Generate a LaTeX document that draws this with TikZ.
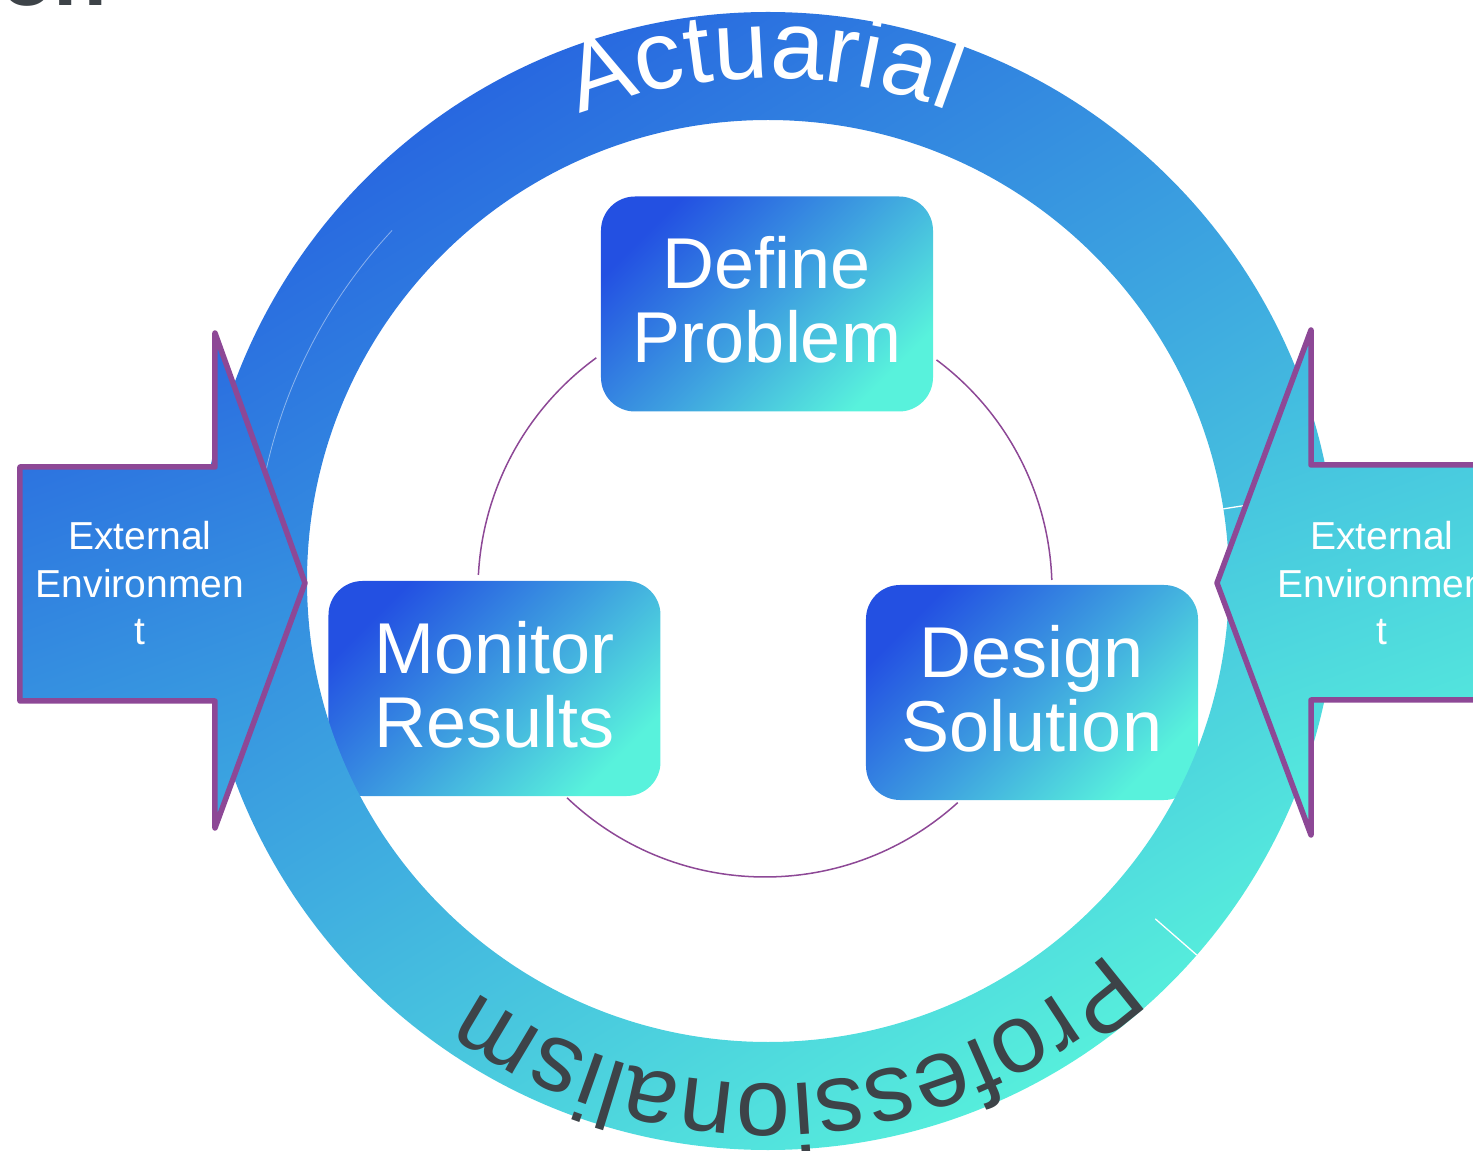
\documentclass[tikz,border=0pt]{standalone}
\usepackage{fontspec}
\setmainfont{Liberation Sans}
\usetikzlibrary{decorations.text}

\definecolor{ringA}{HTML}{2868E0}
\definecolor{ringB}{HTML}{3EAAE0}
\definecolor{ringC}{HTML}{56EEDC}
\definecolor{boxA}{HTML}{2350E2}
\definecolor{boxB}{HTML}{3D9EE0}
\definecolor{boxC}{HTML}{58F2DC}
\definecolor{plum}{HTML}{8D4896}
\definecolor{slate}{HTML}{3D4348}
\definecolor{envLA}{HTML}{2A6BE0}
\definecolor{envLB}{HTML}{3BA4E0}
\definecolor{envRA}{HTML}{42BAE0}
\definecolor{envRB}{HTML}{56EDDC}

\begin{document}
\begin{tikzpicture}[x=1pt,y=1pt,
  stepbox/.style={rounded corners=34pt, minimum width=332pt, minimum height=215pt,
    inner sep=0pt, draw=none, top color=boxA, bottom color=boxC, middle color=boxB,
    shading angle=45},
  steptext/.style={text=white, align=center, inner sep=0pt,
    font=\fontsize{72}{74}\selectfont},
  loopline/.style={draw=plum, line width=1.5pt},
  envarrow/.style={draw=plum, line width=5.5pt, line join=round},
  envtext/.style={text=white, align=center, inner sep=0pt,
    font=\fontsize{39}{47.5}\selectfont},
  seam/.style={draw=white, line width=1.3pt},
]
\useasboundingbox (-768,-570) rectangle (705,581);
\clip (-768,-570) rectangle (705,581);
\coordinate (hub) at (0,0);
\coordinate (loop) at (-3,-9);

% heading running off the top edge
\node[anchor=base west, inner sep=0pt, text=slate,
  font=\fontsize{88}{88}\selectfont\bfseries] (title) at (-768,575) {on};

% the three steps
\node[stepbox] (define)  at (-1,277) {};
\node[stepbox] (monitor) at (-273.5,-107.5) {};
\node[stepbox] (design)  at (264,-111.5) {};
\node[steptext] (defineT)  at ([yshift=4pt]define.center)  {Define\\Problem};
\node[steptext] (monitorT) at ([yshift=4pt]monitor.center) {Monitor\\Results};
\node[steptext] (designT)  at ([yshift=4pt]design.center)  {Design\\Solution};

% cycle arcs between the steps
\draw[loopline] (loop) ++(126:287pt) arc[start angle=126, end angle=177, radius=287pt];
\draw[loopline] (loop) ++(53.3:287pt) arc[start angle=53.3, end angle=2, radius=287pt];
\draw[loopline] (loop) ++(-47.8:287pt) arc[start angle=-47.8, end angle=-133.6, radius=287pt];

% outer ring
\shade[even odd rule, top color=ringA, bottom color=ringC, middle color=ringB,
  shading angle=32]
  (hub) circle[radius=569pt] (hub) circle[radius=461pt];
\draw[seam] (hub) ++(9:461pt) -- ++(9:108pt);
\draw[seam] (hub) ++(-41.1:514pt) -- ++(-41.1:55pt);
\draw[white, opacity=0.45, line width=0.8pt]
  (hub) ++(137:514pt) arc[start angle=137, end angle=170, radius=514pt];

% lettering on the ring
\path[decorate, decoration={text along path, text align=center,
  text={|\fontsize{97}{97}\selectfont\color{white}|Actuarial}}]
  (150.5:503pt) arc[start angle=150.5, end angle=30.5, radius=503pt];
\path[decorate, decoration={text along path, text align=center,
  text={|\fontsize{97}{97}\selectfont\color{slate}|Professionalism}}]
  (-26.5:503pt) arc[start angle=-26.5, end angle=-146.5, radius=503pt];

% external environment arrows
\draw[envarrow, top color=envLA, bottom color=envLB, shading angle=20]
  (-748,114) -- (-553,114) -- (-553,248) -- (-463,-2) -- (-553,-247)
  -- (-553,-120) -- (-748,-120) -- cycle;
\draw[envarrow, top color=envRA, bottom color=envRB, shading angle=20]
  (738,116) -- (543,116) -- (543,251) -- (449,-2) -- (543,-254)
  -- (543,-119) -- (738,-119) -- cycle;
\node[envtext] (envL) at (-628,-2.5) {External\\Environmen\\t};
\node[envtext] (envR) at (614,-2.5) {External\\Environmen\\t};
\end{tikzpicture}
\end{document}
